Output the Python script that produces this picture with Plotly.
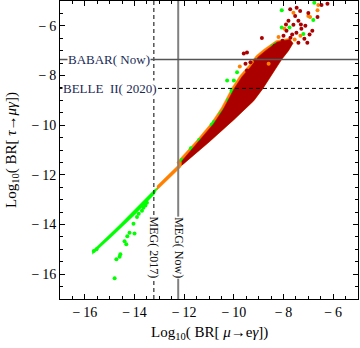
import plotly.graph_objects as go

# ---- experimental limits (log10 BR) ----
meg_now = -12.24
meg_2017 = -13.22
babar_now = -7.36
belle2_2020 = -8.52

# ---- axis ticks ----
tick_vals = [-16, -14, -12, -10, -8, -6]
tick_text = ["\u2212\u200916", "\u2212\u200914", "\u2212\u200912", "\u2212\u200910", "\u2212\u20098", "\u2212\u20096"]

# ---- dense regions of the scan (outline vertices) ----
green_band_x = [-15.70, -15.62, -14.6, -13.20, -13.05, -13.20, -13.6, -14.0, -15.0, -15.70]
green_band_y = [-15.14, -15.00, -14.02, -12.60, -12.50, -12.78, -13.20, -13.62, -14.56, -15.20]

orange_line_x = [-13.10, -12.15, -12.05, -12.15, -13.10]
orange_line_y = [-12.45, -11.52, -11.50, -11.70, -12.62]

orange_wedge_x = [-12.20, -11.00, -10.00, -9.20, -8.85, -8.45, -8.08, -7.80, -7.62, -7.75, -8.30, -8.80, -9.10, -9.40, -9.75, -10.05, -10.25, -10.50, -10.90, -11.50, -12.30]
orange_wedge_y = [-11.70, -10.68, -9.78, -9.02, -8.55, -7.95, -7.36, -7.00, -6.70, -6.50, -6.60, -6.95, -7.20, -7.60, -8.00, -8.45, -8.85, -9.30, -9.90, -10.62, -11.50]

red_wedge_x = [-12.10, -11.00, -10.00, -9.20, -8.85, -8.45, -8.08, -7.80, -7.62, -7.75, -8.25, -8.72, -9.02, -9.32, -9.67, -9.97, -10.17, -10.42, -10.82, -11.42, -12.10]
red_wedge_y = [-11.62, -10.68, -9.78, -9.02, -8.55, -7.95, -7.36, -7.00, -6.70, -6.55, -6.65, -7.00, -7.25, -7.65, -8.05, -8.50, -8.90, -9.35, -9.95, -10.66, -11.45]

# ---- individual points ----
green_x = [-15.64, -15.53, -14.80, -14.73, -14.57, -14.60, -14.40, -14.33, -14.29, -14.20, -14.00, -14.04,
           -13.90, -13.83, -13.70, -13.64, -13.56, -13.50,
           -12.09, -11.73, -11.40, -10.89, -10.80, -10.53, -10.40, -10.23, -10.16, -10.09, -10.07, -10.27,
           -10.00, -9.87, -9.07, -8.93, -8.71, -8.43, -8.31,
           -8.07, -6.76, -6.80, -8.07, -7.76, -7.20]
green_y = [-15.07, -15.00, -16.16, -15.40, -15.20, -15.30, -14.67, -14.80, -14.47, -14.33, -14.36, -13.97,
           -13.70, -13.57, -13.45, -13.33, -13.23, -13.12,
           -11.40, -10.93, -10.60, -9.97, -9.87, -9.53, -9.40, -9.00, -9.00, -8.60, -8.67, -8.20,
           -8.20, -7.87, -7.87, -7.60, -7.20, -6.80, -6.73,
           -5.37, -5.07, -5.77, -6.07, -6.07, -6.33]

orange_x = [-7.60, -7.00, -6.63, -6.93, -9.76, -8.60, -7.96, -7.32, -6.60, -8.20, -7.55]
orange_y = [-5.47, -5.60, -5.37, -5.64, -7.64, -7.53, -6.12, -6.40, -5.16, -6.45, -6.55]

red_x = [-7.73, -7.47, -7.33, -7.53, -6.63, -6.47, -6.23, -7.80, -7.60, -7.40, -7.88, -7.48, -7.28,
         -7.72, -7.16, -7.04, -7.40, -8.04, -8.87, -9.60, -9.47, -7.00, -6.84, -7.12, -8.00, -8.16,
         -8.36, -9.53, -9.33, -9.13, -9.20, -9.47, -7.65, -7.90, -7.30, -6.95]
red_y = [-5.33, -5.27, -5.40, -5.60, -5.64, -5.16, -5.11, -5.80, -5.96, -5.80, -6.20, -6.28, -6.12,
         -6.48, -6.52, -6.68, -6.68, -6.60, -6.49, -7.11, -7.07, -5.48, -6.20, -6.00, -6.40, -7.00,
         -6.80, -7.53, -7.47, -7.40, -7.73, -7.80, -6.35, -5.95, -5.95, -6.35]

GREEN = "#00ff00"
ORANGE = "#ff8000"
DRED = "#aa0000"
TXT = "#1b2a55"
FONT = "Liberation Serif"

fig = go.Figure()

def poly(xs, ys, color):
    fig.add_trace(go.Scatter(x=xs, y=ys, mode="lines", fill="toself", fillcolor=color,
                             line=dict(width=0.5, color=color), hoverinfo="skip", showlegend=False))

poly(green_band_x, green_band_y, GREEN)
poly(orange_line_x, orange_line_y, ORANGE)
poly(orange_wedge_x, orange_wedge_y, ORANGE)
fig.add_trace(go.Scatter(x=green_x, y=green_y, mode="markers",
                         marker=dict(color=GREEN, size=4, line=dict(width=0)), showlegend=False))
poly(red_wedge_x, red_wedge_y, DRED)
fig.add_trace(go.Scatter(x=orange_x, y=orange_y, mode="markers",
                         marker=dict(color=ORANGE, size=4, line=dict(width=0)), showlegend=False))
fig.add_trace(go.Scatter(x=red_x, y=red_y, mode="markers",
                         marker=dict(color=DRED, size=4, line=dict(width=0)), showlegend=False))

# limit lines
fig.add_shape(type="line", xref="x", yref="paper", x0=meg_now, x1=meg_now, y0=0, y1=1,
              line=dict(color="#808080", width=2))
fig.add_shape(type="line", xref="x", yref="paper", x0=meg_2017, x1=meg_2017, y0=0, y1=1,
              line=dict(color="black", width=1, dash="4px,3px"))
fig.add_shape(type="line", xref="paper", yref="y", x0=0, x1=1, y0=babar_now, y1=babar_now,
              line=dict(color="#555555", width=1.5))
fig.add_shape(type="line", xref="paper", yref="y", x0=0, x1=1, y0=belle2_2020, y1=belle2_2020,
              line=dict(color="black", width=1, dash="4px,3px"))

fig.add_annotation(x=-15.04, y=babar_now, text="BABAR( Now)", showarrow=False,
                   font=dict(family=FONT, size=13, color=TXT), bgcolor="white", borderpad=0)
fig.add_annotation(x=-15.0, y=belle2_2020, text="BELLE  II( 2020)", showarrow=False,
                   font=dict(family=FONT, size=13, color=TXT), bgcolor="white", borderpad=0)
fig.add_annotation(x=meg_2017, y=-14.92, text="MEG( 2017)", showarrow=False, textangle=90,
                   font=dict(family=FONT, size=12, color="#111111"), bgcolor="white", borderpad=0)
fig.add_annotation(x=meg_now, y=-14.92, text="MEG( Now)", showarrow=False, textangle=90,
                   font=dict(family=FONT, size=12, color="#111111"), bgcolor="white", borderpad=0)

# axis titles
fig.add_annotation(xref="paper", yref="paper", x=0.5, y=0, yanchor="middle", yshift=-34,
                   text="Log<sub>10</sub>( BR[ <i>μ</i>→e<i>γ</i>])", showarrow=False,
                   font=dict(family=FONT, size=15, color="black"))
fig.add_annotation(xref="paper", yref="paper", x=0, y=0.5, xanchor="center", xshift=-48,
                   textangle=-90, text="Log<sub>10</sub>( BR[ <i>τ</i>→<i>μγ</i>])", showarrow=False,
                   font=dict(family=FONT, size=15, color="black"))

axis_common = dict(range=[-17, -5], tickvals=tick_vals, ticktext=tick_text, ticks="inside",
                   ticklen=5, tickwidth=1, tickcolor="black", showline=True, linecolor="black",
                   linewidth=1, mirror="allticks", showgrid=False, zeroline=False, automargin=False,
                   tickfont=dict(family=FONT, size=14, color="black"),
                   minor=dict(dtick=0.5, ticks="inside", ticklen=3, tickcolor="black", showgrid=False))

fig.update_layout(
    width=360, height=348,
    margin=dict(l=60, r=2, t=1, b=49),
    paper_bgcolor="white", plot_bgcolor="white",
    xaxis=dict(**axis_common),
    yaxis=dict(**axis_common),
)

fig.write_html("out.html", config={"displayModeBar": False},
               post_script="document.body.style.margin='0';document.body.style.overflow='hidden';")
